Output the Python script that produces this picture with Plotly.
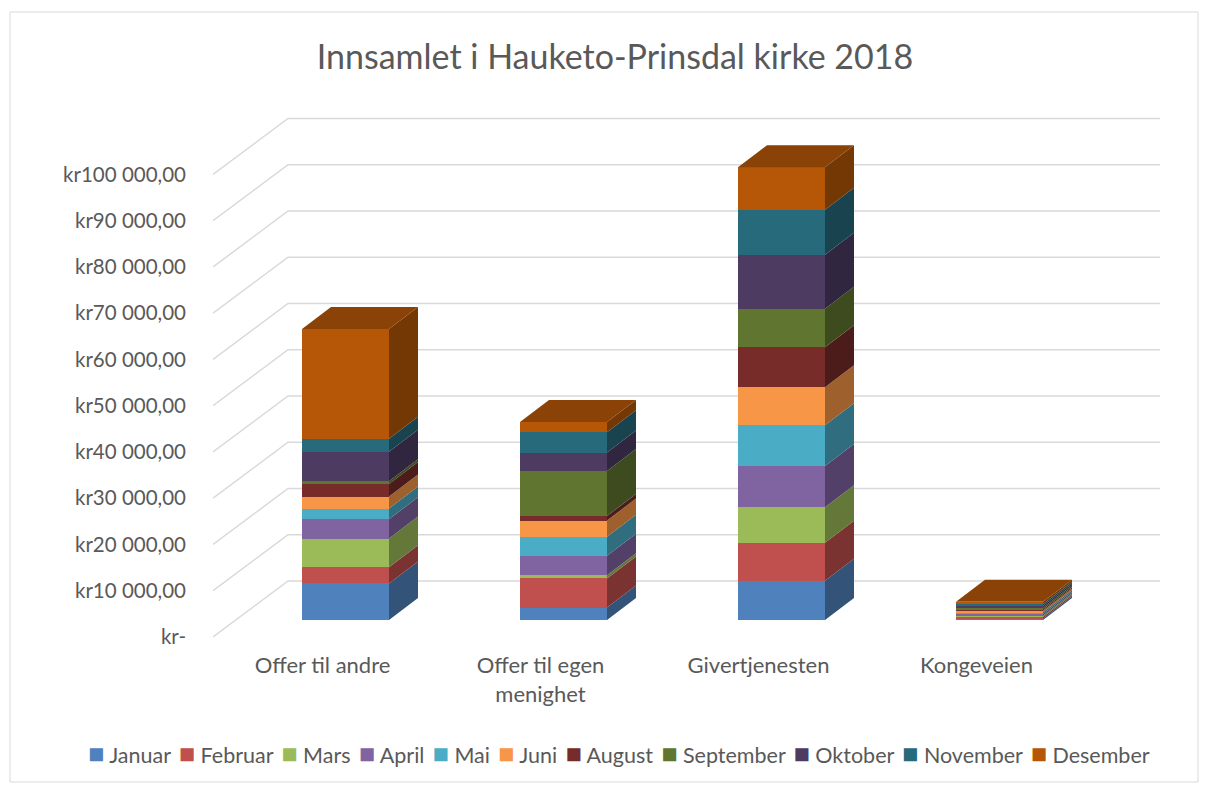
import numpy as np
import plotly.graph_objects as go

# ---------------- data ----------------
categories = ["Offer til andre", "Offer til egen menighet", "Givertjenesten", "Kongeveien"]
category_labels = ["Offer til andre", "Offer til egen<br>menighet", "Givertjenesten", "Kongeveien"]
months = ["Januar", "Februar", "Mars", "April", "Mai", "Juni",
          "August", "September", "Oktober", "November", "Desember"]

januar = [7900, 2700, 8500, 350]
februar = [3500, 6300, 8200, 300]
mars = [6200, 700, 7700, 350]
april = [4200, 4200, 8900, 300]
mai = [2300, 4100, 8800, 350]
juni = [2600, 3500, 8200, 400]
august = [2700, 1000, 8700, 300]
september = [600, 9700, 8300, 350]
oktober = [6400, 4000, 11700, 400]
november = [2800, 4400, 9700, 350]
desember = [23700, 2200, 9200, 500]

series = [januar, februar, mars, april, mai, juni, august, september, oktober, november, desember]

y_tick_values = [0, 10000, 20000, 30000, 40000, 50000, 60000, 70000, 80000, 90000, 100000]
y_tick_labels = ["kr-", "kr10 000,00", "kr20 000,00", "kr30 000,00", "kr40 000,00",
                 "kr50 000,00", "kr60 000,00", "kr70 000,00", "kr80 000,00",
                 "kr90 000,00", "kr100 000,00"]

title_text = "Innsamlet i Hauketo-Prinsdal kirke 2018"

# ---------------- styles ----------------
colors = ["#4F81BD", "#C0504D", "#9BBB59", "#8064A2", "#4BACC6", "#F79646",
          "#772C2A", "#5F7530", "#4D3B62", "#276A7C", "#B65708"]
TEXT_COLOR = "#595959"
GRID_COLOR = "#D9D9D9"
FONT = "Lato"


def shade(hex_color, f):
    h = hex_color.lstrip("#")
    r, g, b = (int(h[i:i + 2], 16) for i in (0, 2, 4))
    return "rgb(%d,%d,%d)" % (round(r * f), round(g * f), round(b * f))


# ---------------- geometry (reference pixels) ----------------
OFF = 8  # page body margin
W, H = 1209 - OFF, 785 - OFF
PLOT_L, PLOT_R, PLOT_T, PLOT_B = 213, 1160, 100, 650
PX_PER_VAL = 46.25 / 10000.0
ZERO_PX = 620.0
PX_PER_CAT = 218.0
CAT0_PX = 345.5
BAR_W_PX = 87.0
DEPTH_DX_PX, DEPTH_DY_PX = 29.0, 22.0
GRID_FRONT_DROP, GRID_BACK_RISE, GRID_DX = 17.0, 39.0, 75.0
LABEL_SHIFT_PX = 23.0


def vy(px):
    return px / PX_PER_VAL


def ux(px):
    return px / PX_PER_CAT


yrange = [-(PLOT_B - ZERO_PX) / PX_PER_VAL, (ZERO_PX - PLOT_T) / PX_PER_VAL]
xrange = [-(CAT0_PX - PLOT_L) / PX_PER_CAT, (PLOT_R - CAT0_PX) / PX_PER_CAT]

xpos = np.arange(len(categories), dtype=float)
bar_w = ux(BAR_W_PX)
ddx, ddy = ux(DEPTH_DX_PX), vy(DEPTH_DY_PX)

vals = np.array(series, dtype=float)
tops = np.cumsum(vals, axis=0)
bases = tops - vals

fig = go.Figure()

# front faces (stacked bars)
for m, v, c in zip(months, series, colors):
    fig.add_trace(go.Bar(x=xpos, y=v, name=m, marker=dict(color=c, line=dict(width=0)),
                         width=bar_w, showlegend=False, hoverinfo="name+y"))

# right side faces
for i, (m, c) in enumerate(zip(months, colors)):
    xs, ys = [], []
    for j in range(len(categories)):
        x1 = xpos[j] + bar_w / 2
        b, t = bases[i, j], tops[i, j]
        xs += [x1, x1 + ddx, x1 + ddx, x1, x1, None]
        ys += [b, b + ddy, t + ddy, t, b, None]
    fig.add_trace(go.Scatter(x=xs, y=ys, mode="lines", fill="toself",
                             fillcolor=shade(c, 0.64), line=dict(width=0),
                             showlegend=False, hoverinfo="skip"))

# top faces (colour of the top-most series)
xs, ys = [], []
for j in range(len(categories)):
    x0 = xpos[j] - bar_w / 2
    x1 = xpos[j] + bar_w / 2
    t = tops[-1, j]
    xs += [x0, x0 + ddx, x1 + ddx, x1, x0, None]
    ys += [t, t + ddy, t + ddy, t, t, None]
fig.add_trace(go.Scatter(x=xs, y=ys, mode="lines", fill="toself",
                         fillcolor=shade(colors[-1], 0.76), line=dict(width=0),
                         showlegend=False, hoverinfo="skip"))

# gridlines (perspective: short diagonal then back wall)
shapes = []
for v in y_tick_values:
    yf = v - vy(GRID_FRONT_DROP)
    yb = v + vy(GRID_BACK_RISE)
    xa = xrange[0]
    xb = xrange[0] + ux(GRID_DX)
    shapes.append(dict(type="path", xref="x", yref="y",
                       path=f"M {xa},{yf} L {xb},{yb} L {xrange[1]},{yb}",
                       line=dict(color=GRID_COLOR, width=1.5), layer="below"))

# chart border
pw, ph = PLOT_R - PLOT_L, PLOT_B - PLOT_T


def px2paper_x(px):
    return (px - PLOT_L) / pw


def px2paper_y(py):
    return (PLOT_B - py) / ph


shapes.append(dict(type="rect", xref="paper", yref="paper",
                   x0=px2paper_x(10), x1=px2paper_x(1198),
                   y0=px2paper_y(782), y1=px2paper_y(12),
                   line=dict(color=GRID_COLOR, width=1), layer="below"))

# legend (custom, single row)
gap = "\u00a0\u2009"
legend_parts = [f"<span style='color:{c};font-size:27px'>■</span>\u00a0{m}" for m, c in zip(months, colors)]
legend_text = gap.join(legend_parts)

annotations = [dict(text=legend_text, xref="paper", yref="paper",
                    x=px2paper_x(619), y=px2paper_y(752), xanchor="center", yanchor="middle",
                    showarrow=False, font=dict(family=FONT, size=21.5, color=TEXT_COLOR))]

fig.update_layout(
    width=W, height=H,
    margin=dict(l=PLOT_L - OFF, r=W - (PLOT_R - OFF), t=PLOT_T - OFF, b=H - (PLOT_B - OFF), pad=0),
    paper_bgcolor="white", plot_bgcolor="white",
    barmode="stack",
    bargap=0,
    showlegend=False,
    title=dict(text=title_text, x=(615 - OFF) / W, xanchor="center", y=1 - (57 - OFF) / H,
               yanchor="middle", font=dict(family=FONT, size=34, color=TEXT_COLOR)),
    font=dict(family=FONT, size=20, color=TEXT_COLOR),
    xaxis=dict(range=xrange, tickmode="array",
               tickvals=[x - ux(LABEL_SHIFT_PX) for x in xpos], ticktext=category_labels,
               showgrid=False, zeroline=False, showline=False, ticks="",
               tickfont=dict(family=FONT, size=22, color=TEXT_COLOR), fixedrange=True),
    yaxis=dict(range=yrange, tickmode="array",
               tickvals=[v - vy(GRID_FRONT_DROP) for v in y_tick_values], ticktext=y_tick_labels,
               showgrid=False, zeroline=False, showline=False, ticks="",
               ticklabelstandoff=26,
               tickfont=dict(family=FONT, size=20.5, color=TEXT_COLOR), fixedrange=True),
    shapes=shapes,
    annotations=annotations,
)

fig.write_html("out.html")
